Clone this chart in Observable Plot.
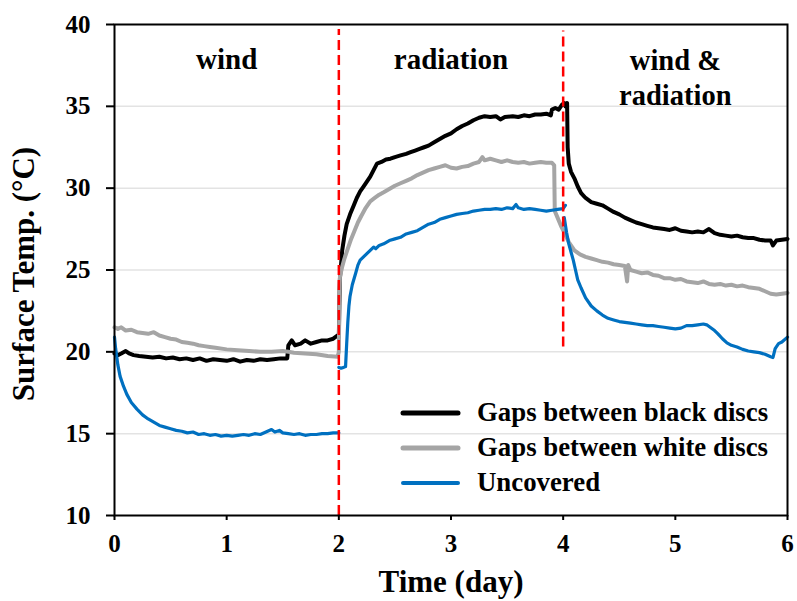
<!DOCTYPE html>
<html>
<head>
<meta charset="utf-8">
<script src="https://cdn.jsdelivr.net/npm/d3@7"></script>
<script src="https://cdn.jsdelivr.net/npm/@observablehq/plot@0.6"></script>
<style>
  html, body { margin: 0; padding: 0; background: #fff; }
  #wrap { position: relative; width: 797px; height: 601px; }
  #legend { position: absolute; left: 0; top: 0; pointer-events: none; }
</style>
</head>
<body>
<div id="wrap"></div>
<script>
// ---- data (time in days, surface temperature in °C) ----
const blackDiscs = [
  [0.00,19.9],[0.03,19.8],[0.06,19.9],[0.10,20.05],[0.13,19.9],[0.17,19.8],[0.22,19.75],[0.28,19.7],
  [0.34,19.65],[0.40,19.7],[0.46,19.6],[0.52,19.65],[0.58,19.55],[0.64,19.6],[0.70,19.5],[0.76,19.6],
  [0.82,19.45],[0.88,19.55],[0.94,19.5],[1.00,19.45],[1.06,19.55],[1.12,19.4],[1.18,19.5],[1.24,19.45],
  [1.30,19.55],[1.36,19.5],[1.42,19.55],[1.48,19.6],[1.54,19.6],[1.55,20.4],[1.58,20.7],[1.61,20.4],
  [1.66,20.5],[1.70,20.7],[1.75,20.5],[1.80,20.6],[1.85,20.7],[1.90,20.7],[1.95,20.8],[1.99,21.0],
  [2.00,20.9],[2.005,23.0],[2.01,24.5],[2.03,26.2],[2.05,27.1],[2.07,27.8],[2.10,28.4],[2.13,28.9],
  [2.16,29.4],[2.19,29.8],[2.22,30.1],[2.25,30.4],[2.28,30.7],[2.31,31.1],[2.34,31.5],[2.38,31.6],
  [2.42,31.75],[2.46,31.8],[2.50,31.9],[2.55,32.0],[2.60,32.1],[2.64,32.2],[2.68,32.3],[2.72,32.4],
  [2.76,32.5],[2.80,32.6],[2.85,32.8],[2.90,33.0],[2.95,33.2],[3.00,33.35],[3.05,33.6],[3.10,33.8],
  [3.15,33.95],[3.20,34.15],[3.25,34.3],[3.30,34.4],[3.35,34.35],[3.40,34.4],[3.44,34.2],[3.48,34.35],
  [3.55,34.4],[3.60,34.35],[3.65,34.45],[3.70,34.4],[3.75,34.5],[3.80,34.5],[3.85,34.55],[3.89,34.45],
  [3.90,34.8],[3.93,34.9],[3.96,34.8],[3.99,35.1],[4.01,35.2],[4.02,35.0],[4.035,35.2],[4.04,32.5],
  [4.05,31.5],[4.07,31.0],[4.10,30.6],[4.13,30.1],[4.16,29.7],[4.20,29.4],[4.25,29.15],[4.30,29.05],
  [4.35,28.95],[4.40,28.75],[4.45,28.55],[4.50,28.4],[4.55,28.2],[4.60,28.05],[4.65,27.9],[4.70,27.8],
  [4.75,27.7],[4.80,27.6],[4.85,27.55],[4.90,27.5],[4.95,27.45],[5.00,27.55],[5.05,27.4],[5.10,27.35],
  [5.15,27.3],[5.20,27.35],[5.25,27.3],[5.30,27.5],[5.35,27.25],[5.40,27.15],[5.45,27.1],[5.50,27.05],
  [5.55,27.1],[5.60,27.0],[5.65,26.95],[5.70,26.95],[5.75,26.85],[5.80,26.8],[5.85,26.8],[5.87,26.5],
  [5.90,26.8],[5.95,26.85],[6.00,26.9]
];
const whiteDiscs = [
  [0.00,21.5],[0.03,21.4],[0.06,21.5],[0.10,21.3],[0.15,21.35],[0.20,21.2],[0.25,21.15],[0.30,21.1],
  [0.35,21.2],[0.40,21.0],[0.45,20.9],[0.50,20.8],[0.55,20.75],[0.60,20.6],[0.65,20.55],[0.70,20.5],
  [0.75,20.4],[0.80,20.35],[0.85,20.3],[0.90,20.25],[1.00,20.15],[1.10,20.1],[1.20,20.05],[1.30,20.0],
  [1.40,20.0],[1.50,20.05],[1.55,20.0],[1.60,19.95],[1.70,19.9],[1.80,19.85],[1.90,19.75],[1.99,19.7],
  [2.00,20.0],[2.005,23.5],[2.01,24.6],[2.03,25.2],[2.05,25.7],[2.08,26.3],[2.11,26.9],[2.14,27.4],
  [2.17,27.9],[2.20,28.3],[2.24,28.8],[2.28,29.2],[2.32,29.4],[2.36,29.6],[2.40,29.75],[2.45,29.95],
  [2.50,30.15],[2.55,30.3],[2.60,30.45],[2.65,30.6],[2.70,30.8],[2.75,30.95],[2.80,31.1],[2.85,31.2],
  [2.90,31.3],[2.95,31.4],[3.00,31.25],[3.05,31.2],[3.10,31.3],[3.15,31.35],[3.20,31.5],[3.25,31.6],
  [3.28,31.9],[3.30,31.7],[3.35,31.8],[3.40,31.7],[3.45,31.6],[3.50,31.7],[3.55,31.6],[3.60,31.55],
  [3.65,31.6],[3.70,31.5],[3.75,31.55],[3.80,31.6],[3.85,31.55],[3.90,31.55],[3.92,31.4],[3.925,28.6],
  [3.95,28.2],[3.98,27.7],[4.01,27.3],[4.05,26.7],[4.10,26.2],[4.15,25.95],[4.20,25.8],[4.25,25.7],
  [4.30,25.6],[4.35,25.5],[4.40,25.45],[4.45,25.35],[4.50,25.3],[4.55,25.25],[4.57,24.3],[4.58,25.3],
  [4.60,25.0],[4.65,24.9],[4.70,24.8],[4.75,24.85],[4.80,24.7],[4.85,24.65],[4.90,24.5],[4.95,24.5],
  [5.00,24.4],[5.05,24.45],[5.10,24.3],[5.15,24.25],[5.20,24.2],[5.25,24.3],[5.30,24.15],[5.35,24.1],
  [5.40,24.15],[5.45,24.05],[5.50,24.1],[5.55,24.0],[5.60,24.05],[5.65,23.95],[5.70,23.9],[5.75,23.85],
  [5.80,23.7],[5.85,23.55],[5.90,23.5],[5.95,23.55],[6.00,23.6]
];
const uncovered = [
  [0.00,20.9],[0.01,20.2],[0.03,19.2],[0.05,18.5],[0.08,17.9],[0.11,17.4],[0.15,16.9],[0.20,16.5],
  [0.25,16.15],[0.30,15.9],[0.35,15.7],[0.40,15.5],[0.45,15.4],[0.50,15.3],[0.55,15.2],[0.60,15.15],
  [0.65,15.05],[0.70,15.1],[0.75,14.95],[0.80,15.0],[0.85,14.9],[0.90,14.95],[0.95,14.85],[1.00,14.9],
  [1.05,14.85],[1.10,14.9],[1.15,14.95],[1.20,14.9],[1.25,15.0],[1.30,14.95],[1.35,15.1],[1.40,15.25],
  [1.43,15.1],[1.47,15.2],[1.50,15.05],[1.55,15.0],[1.60,14.95],[1.65,15.0],[1.70,14.9],[1.75,14.95],
  [1.80,14.95],[1.85,15.0],[1.90,15.0],[1.95,15.05],[2.00,15.05],
  [2.00,NaN],
  [2.00,19.05],[2.02,19.0],[2.04,19.05],[2.06,19.1],[2.07,20.5],[2.08,21.8],[2.09,22.8],[2.10,23.4],
  [2.12,24.1],[2.15,24.8],[2.17,25.3],[2.19,25.6],[2.22,25.8],[2.25,26.0],[2.28,26.2],[2.31,26.4],
  [2.33,26.3],[2.36,26.5],[2.40,26.6],[2.45,26.8],[2.50,26.9],[2.55,27.0],[2.60,27.2],[2.65,27.3],
  [2.70,27.4],[2.75,27.6],[2.80,27.8],[2.85,27.9],[2.90,28.1],[2.95,28.2],[3.00,28.3],[3.05,28.4],
  [3.10,28.45],[3.15,28.5],[3.20,28.6],[3.25,28.65],[3.30,28.7],[3.35,28.7],[3.40,28.75],[3.45,28.7],
  [3.50,28.8],[3.55,28.75],[3.58,29.0],[3.60,28.8],[3.65,28.7],[3.70,28.75],[3.75,28.7],[3.80,28.65],
  [3.85,28.6],[3.90,28.65],[3.95,28.7],[4.00,28.75],[4.02,28.95],
  [4.02,NaN],
  [4.01,28.2],[4.03,27.3],[4.05,26.6],[4.07,26.1],[4.09,25.6],[4.11,25.0],[4.13,24.4],[4.16,23.9],
  [4.20,23.3],[4.25,22.8],[4.30,22.5],[4.35,22.25],[4.40,22.05],[4.45,21.95],[4.50,21.85],[4.55,21.8],
  [4.60,21.75],[4.65,21.7],[4.70,21.65],[4.75,21.6],[4.80,21.6],[4.85,21.55],[4.90,21.5],[4.95,21.45],
  [5.00,21.4],[5.05,21.45],[5.10,21.6],[5.15,21.6],[5.20,21.65],[5.25,21.7],[5.28,21.65],[5.31,21.5],
  [5.35,21.3],[5.38,21.1],[5.42,20.8],[5.46,20.55],[5.50,20.4],[5.55,20.3],[5.60,20.15],[5.65,20.05],
  [5.70,20.0],[5.75,19.95],[5.80,19.85],[5.85,19.7],[5.87,19.65],[5.89,20.2],[5.92,20.5],[5.95,20.6],
  [6.00,20.9]
];
const seriesNames = ["Gaps between black discs", "Gaps between white discs", "Uncovered"];
const seriesColors = ["#000000", "#a5a5a5", "#0070c0"];
const phases = [
  {start: 0, end: 2, label: "wind"},
  {start: 2, end: 4, label: "radiation"},
  {start: 4, end: 6, label: "wind &\nradiation"}
];
const dividers = [
  {x: 2, from: 10, to: 39.7},
  {x: 4, from: 20.3, to: 39.6}
];
const xTicks = [0, 1, 2, 3, 4, 5, 6];
const yTicks = [10, 15, 20, 25, 30, 35, 40];
const gridTicks = [15, 20, 25, 30, 35];
const xTitle = "Time (day)";
const yTitle = "Surface Temp. (°C)";

// ---- chart ----
const FONT = "'Liberation Serif', 'Times New Roman', serif";
const px = d => d[0], py = d => d[1];
const mid = d => (d.start + d.end) / 2;

const chart = Plot.plot({
  width: 797,
  height: 601,
  marginLeft: 114,
  marginRight: 10,
  marginTop: 24,
  marginBottom: 86,
  style: {fontFamily: FONT, fontWeight: "bold", color: "#000", background: "#fff"},
  x: {domain: [0, 6]},
  y: {domain: [10, 40]},
  marks: [
    Plot.gridY(gridTicks, {stroke: "#e3e3e3", strokeOpacity: 1, strokeWidth: 1.5}),
    Plot.line(blackDiscs, {x: px, y: py, stroke: seriesColors[0], strokeWidth: 4}),
    Plot.line(whiteDiscs, {x: px, y: py, stroke: seriesColors[1], strokeWidth: 4}),
    Plot.line(uncovered, {x: px, y: py, stroke: seriesColors[2], strokeWidth: 3.2}),
    Plot.ruleX(dividers, {x: "x", y1: "from", y2: "to", stroke: "#ff0000", strokeWidth: 2.5, strokeDasharray: "10,5"}),
    Plot.text(phases.slice(0, 2), {x: mid, text: "label", frameAnchor: "top", lineAnchor: "top", dy: 23.5, fontSize: 29, fontWeight: "bold", fill: "#000"}),
    Plot.text(phases.slice(2), {x: mid, text: "label", frameAnchor: "top", lineAnchor: "top", dy: 21, fontSize: 28.5, lineHeight: 1.23, fontWeight: "bold", fill: "#000"}),
    Plot.frame({stroke: "#000", strokeWidth: 2}),
    Plot.axisY(yTicks, {tickSize: 8, tickPadding: 16, fontSize: 25, fontWeight: "bold", strokeWidth: 2, label: null, fill: "#000"}),
    Plot.axisX(xTicks, {tickSize: 5, tickPadding: 14, fontSize: 25, fontWeight: "bold", strokeWidth: 2, label: null, fill: "#000"}),
    Plot.text([xTitle], {frameAnchor: "bottom", lineAnchor: "middle", textAnchor: "middle", dy: 67, fontSize: 31, fontWeight: "bold", fill: "#000"}),
    Plot.text([yTitle], {frameAnchor: "left", lineAnchor: "middle", textAnchor: "middle", rotate: -90, dx: -90, dy: 4, fontSize: 31, fontWeight: "bold", fill: "#000"})
  ]
});
const wrap = document.getElementById("wrap");
wrap.appendChild(chart);

// ---- legend (inside plot area, lower right) ----
const ns = "http://www.w3.org/2000/svg";
const leg = document.createElementNS(ns, "svg");
leg.setAttribute("id", "legend");
leg.setAttribute("width", 797);
leg.setAttribute("height", 601);
const legendWidths = [5, 5, 4];
seriesNames.forEach((name, i) => {
  const y = 413 + i * 35;
  const ln = document.createElementNS(ns, "line");
  ln.setAttribute("x1", 403); ln.setAttribute("x2", 458);
  ln.setAttribute("y1", y); ln.setAttribute("y2", y);
  ln.setAttribute("stroke", seriesColors[i]);
  ln.setAttribute("stroke-width", legendWidths[i]);
  ln.setAttribute("stroke-linecap", "round");
  leg.appendChild(ln);
  const tx = document.createElementNS(ns, "text");
  tx.setAttribute("x", 477); tx.setAttribute("y", y + 8);
  tx.setAttribute("font-family", FONT);
  tx.setAttribute("font-weight", "bold");
  tx.setAttribute("font-size", 26.8);
  tx.setAttribute("fill", "#000");
  tx.textContent = name;
  leg.appendChild(tx);
});
wrap.appendChild(leg);
</script>
</body>
</html>
